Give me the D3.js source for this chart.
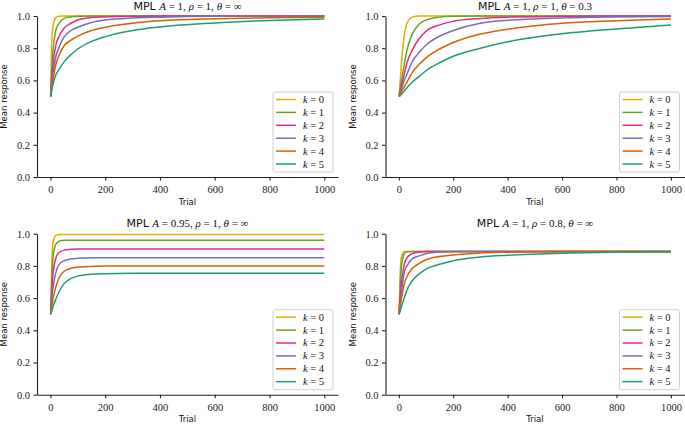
<!DOCTYPE html>
<html>
<head>
<meta charset="utf-8">
<script src="https://cdnjs.cloudflare.com/ajax/libs/d3/7.8.5/d3.min.js"></script>
<style>
  body { margin: 0; background: #fff; }
</style>
</head>
<body>
<script>
// trials, one value per trial for each k
var trials = [1, 5, 10, 20, 30, 50, 75, 100, 150, 200, 300, 400, 600, 800, 1000];
var kLabels = ["0", "1", "2", "3", "4", "5"];
var colors = ["#e6ab02", "#66a61e", "#e7298a", "#7570b3", "#d95f02", "#1b9e77"];
var xTicks = [0, 200, 400, 600, 800, 1000];
var yTicks = [0, 0.2, 0.4, 0.6, 0.8, 1.0];

// MPL A=1, rho=1, theta=inf
var baseline = [
  [.5, .85, .94, .99, .998, 1, 1, 1, 1, 1, 1, 1, 1, 1, 1],
  [.5, .68, .80, .91, .95, .985, .995, .999, 1, 1, 1, 1, 1, 1, 1],
  [.5, .62, .71, .82, .87, .925, .955, .975, .99, .995, .999, 1, 1, 1, 1],
  [.5, .58, .65, .75, .80, .87, .91, .93, .96, .975, .988, .993, .998, .999, 1],
  [.5, .56, .61, .70, .75, .815, .85, .875, .91, .93, .955, .97, .983, .989, .993],
  [.5, .54, .58, .635, .665, .715, .76, .795, .842, .872, .91, .932, .957, .972, .982]
];
// MPL A=1, rho=1, theta=0.3
var theta03 = [
  [.5, .6, .72, .88, .955, .993, 1, 1, 1, 1, 1, 1, 1, 1, 1],
  [.5, .55, .6, .7, .79, .89, .95, .975, .993, .998, 1, 1, 1, 1, 1],
  [.5, .53, .57, .64, .71, .79, .86, .905, .945, .967, .985, .993, .998, 1, 1],
  [.5, .52, .55, .6, .64, .72, .775, .82, .875, .91, .955, .973, .988, .994, .997],
  [.5, .51, .53, .56, .59, .65, .70, .74, .795, .835, .888, .918, .955, .97, .981],
  [.5, .505, .515, .535, .555, .59, .625, .66, .71, .75, .80, .84, .89, .92, .944]
];
// MPL A=0.95, rho=1, theta=inf
var forget095 = [
  [.5, .82, .95, .99, .995, .995, .995, .995, .995, .995, .995, .995, .995, .995, .995],
  [.5, .72, .86, .935, .952, .96, .96, .96, .96, .96, .96, .96, .96, .96, .96],
  [.5, .64, .76, .85, .882, .898, .903, .905, .905, .905, .905, .905, .905, .905, .905],
  [.5, .6, .67, .76, .805, .832, .843, .847, .85, .85, .85, .85, .85, .85, .85],
  [.5, .55, .6, .67, .72, .767, .785, .792, .797, .799, .8, .8, .8, .8, .8],
  [.5, .52, .55, .595, .635, .69, .722, .737, .748, .752, .755, .755, .755, .755, .755]
];
// MPL A=1, rho=0.8, theta=inf
var rho08 = [
  [.5, .75, .86, .89, .89, .89, .89, .89, .89, .89, .89, .89, .89, .89, .89],
  [.5, .68, .80, .875, .888, .89, .89, .89, .89, .89, .89, .89, .89, .89, .89],
  [.5, .6, .7, .81, .85, .877, .886, .89, .89, .89, .89, .89, .89, .89, .89],
  [.5, .57, .64, .76, .80, .845, .862, .876, .886, .89, .89, .89, .89, .89, .89],
  [.5, .55, .6, .688, .735, .785, .815, .838, .858, .868, .88, .885, .889, .89, .89],
  [.5, .52, .55, .6, .65, .71, .75, .78, .81, .832, .855, .866, .879, .885, .888]
];

var titles = [
  [["MPL ", "sans"], ["A", "it"], [" = 1, ", "rm"], ["ρ", "it"], [" = 1, ", "rm"], ["θ", "it"], [" = ∞", "rm"]],
  [["MPL ", "sans"], ["A", "it"], [" = 1, ", "rm"], ["ρ", "it"], [" = 1, ", "rm"], ["θ", "it"], [" = 0.3", "rm"]],
  [["MPL ", "sans"], ["A", "it"], [" = 0.95, ", "rm"], ["ρ", "it"], [" = 1, ", "rm"], ["θ", "it"], [" = ∞", "rm"]],
  [["MPL ", "sans"], ["A", "it"], [" = 1, ", "rm"], ["ρ", "it"], [" = 0.8, ", "rm"], ["θ", "it"], [" = ∞", "rm"]]
];

var panels = [
  {data: baseline, title: titles[0], left: 37, right: 338, top: 16, bottom: 177},
  {data: theta03, title: titles[1], left: 385.5, right: 684.5, top: 16, bottom: 177},
  {data: forget095, title: titles[2], left: 37, right: 338, top: 233.7, bottom: 394.7},
  {data: rho08, title: titles[3], left: 385.5, right: 684.5, top: 233.7, bottom: 394.7}
];

var svg = d3.select("body").append("svg")
  .attr("width", 685)
  .attr("height", 424);

var serif = "'Liberation Serif', 'DejaVu Serif', serif";
var sans = "'DejaVu Sans', sans-serif";
var fonts = {
  sans: {family: sans, style: "normal"},
  it: {family: serif, style: "italic"},
  rm: {family: serif, style: "normal"}
};

function styleAxis(sel) {
  sel.attr("font-family", serif).attr("font-size", 10.5);
  sel.selectAll("text").attr("fill", "#222").style("font-family", serif);
  sel.selectAll("line").attr("stroke", "#222").attr("stroke-width", 1.1);
  sel.select(".domain").attr("stroke", "#222").attr("stroke-width", 1.1);
}

panels.forEach(function(p) {
  var x = d3.scaleLinear().domain([-49, 1050]).range([p.left, p.right]);
  var y = d3.scaleLinear().domain([0, 1]).range([p.bottom, p.top]);
  var g = svg.append("g");

  g.append("g")
    .attr("transform", "translate(0," + p.bottom + ")")
    .call(d3.axisBottom(x).tickValues(xTicks).tickFormat(d3.format("d"))
      .tickSize(3.5).tickSizeOuter(0).tickPadding(5))
    .call(styleAxis);

  g.append("g")
    .attr("transform", "translate(" + p.left + ",0)")
    .call(d3.axisLeft(y).tickValues(yTicks).tickFormat(d3.format(".1f"))
      .tickSize(3.5).tickSizeOuter(0).tickPadding(3.5))
    .call(styleAxis);

  var line = d3.line()
    .x(function(d, i) { return x(trials[i]); })
    .y(function(d) { return y(d); })
    .curve(d3.curveMonotoneX);

  p.data.forEach(function(series, k) {
    g.append("path")
      .attr("d", line(series))
      .attr("fill", "none")
      .attr("stroke", colors[k])
      .attr("stroke-width", 1.5);
  });

  // title
  var t = g.append("text")
    .attr("x", (p.left + p.right) / 2)
    .attr("y", p.top - 6.5)
    .attr("text-anchor", "middle")
    .attr("font-size", 11)
    .attr("fill", "#111");
  p.title.forEach(function(part) {
    t.append("tspan")
      .attr("font-family", fonts[part[1]].family)
      .attr("font-style", fonts[part[1]].style)
      .text(part[0]);
  });

  // axis labels
  g.append("text")
    .attr("x", (p.left + p.right) / 2)
    .attr("y", p.bottom + 27.5)
    .attr("text-anchor", "middle")
    .attr("font-family", sans)
    .attr("font-size", 8.5)
    .attr("fill", "#111")
    .text("Trial");

  g.append("text")
    .attr("transform", "translate(" + (p.left - 30) + "," + ((p.top + p.bottom) / 2) + ") rotate(-90)")
    .attr("text-anchor", "middle")
    .attr("font-family", sans)
    .attr("font-size", 8.5)
    .attr("fill", "#111")
    .text("Mean response");

  // legend, lower right
  var lw = 60, lh = 80;
  var lg = g.append("g")
    .attr("transform", "translate(" + (p.right - 5 - lw) + "," + (p.bottom - 5 - lh) + ")");
  lg.append("rect")
    .attr("width", lw).attr("height", lh)
    .attr("rx", 2)
    .attr("fill", "#fff").attr("fill-opacity", 0.85)
    .attr("stroke", "#d0d0d0").attr("stroke-width", 1);
  kLabels.forEach(function(lab, k) {
    var yy = 7.5 + k * 12.9;
    lg.append("line")
      .attr("x1", 3).attr("x2", 23)
      .attr("y1", yy).attr("y2", yy)
      .attr("stroke", colors[k]).attr("stroke-width", 1.5);
    var lt = lg.append("text")
      .attr("x", 30).attr("y", yy + 3.5)
      .attr("font-family", serif)
      .attr("font-size", 10.5)
      .attr("fill", "#111");
    lt.append("tspan").attr("font-style", "italic").text("k");
    lt.append("tspan").text(" = " + lab);
  });
});
</script>
</body>
</html>
